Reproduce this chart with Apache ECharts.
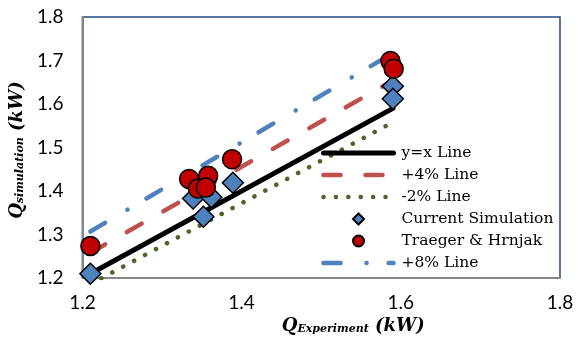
<!DOCTYPE html>
<html><head><meta charset="utf-8">
<script src="https://cdn.jsdelivr.net/npm/echarts@6/dist/echarts.min.js"></script>
<style>html,body{margin:0;padding:0;background:#fff}#c{width:580px;height:340px}</style>
</head><body><div id="c"></div>
<script>
// tick labels
const xTicks = [1.2, 1.4, 1.6, 1.8];
const yTicks = [1.2, 1.3, 1.4, 1.5, 1.6, 1.7, 1.8];
// reference lines (endpoints)
const refX   = [1.21, 1.59];
const yxLine = [1.21, 1.59];
const plus4  = [1.258, 1.654];
const minus2 = [1.186, 1.558];
const plus8  = [1.307, 1.717];
// Current Simulation
const simX = [1.21, 1.339, 1.362, 1.352, 1.389, 1.59, 1.59];
const simY = [1.21, 1.383, 1.386, 1.341, 1.419, 1.641, 1.612];
// Traeger & Hrnjak
const thX = [1.21, 1.334, 1.358, 1.345, 1.355, 1.388, 1.587, 1.591];
const thY = [1.274, 1.428, 1.435, 1.406, 1.408, 1.473, 1.699, 1.681];

const names = ['y=x Line', '+4% Line', '-2% Line', 'Current Simulation', 'Traeger & Hrnjak', '+8% Line'];
const zip = (a, b) => a.map((v, i) => [v, b[i]]);

const chart = echarts.init(document.getElementById('c'));
const titleRich = {
  q:   {fontFamily: 'DejaVu Serif', fontWeight: 'bold', fontStyle: 'italic', fontSize: 18, lineHeight: 23, color: '#000', verticalAlign: 'bottom'},
  sub: {fontFamily: 'DejaVu Serif', fontWeight: 'bold', fontStyle: 'italic', fontSize: 11, lineHeight: 17, color: '#000', verticalAlign: 'bottom'}
};
const lineSeries = (name, ys, color, width, dash) => ({
  name, type: 'line', data: zip(refX, ys), symbol: 'none', silent: true,
  lineStyle: {color, width, type: dash, cap: 'round'}, itemStyle: {color}, z: 2
});
const diamondIcon = 'path://M0,0 M70,12 M35,0.5 L40.5,6 L35,11.5 L29.5,6 Z';
const circleIcon = 'path://M0,0 M70,12 M40.5,6 A5.5,5.5 0 1 1 29.5,6 A5.5,5.5 0 1 1 40.5,6 Z';
chart.setOption({
  animation: false,
  grid: {left: 81, right: 20, top: 17, bottom: 55, show: true, borderColor: '#1F497D', borderWidth: 1.5, backgroundColor: 'transparent'},
  xAxis: {
    type: 'value', min: xTicks[0], max: xTicks[xTicks.length - 1], interval: 0.2,
    axisLine: {show: true, lineStyle: {color: '#868686', width: 2}},
    axisTick: {show: false}, splitLine: {show: false},
    axisLabel: {fontFamily: 'Lato', fontSize: 19, color: '#000', margin: 15, formatter: v => v.toFixed(1)},
    name: '{q|Q}{sub|Experiment}{q| (kW)}', nameLocation: 'middle', nameGap: 24,
    nameTextStyle: {rich: titleRich, padding: [0, 0, 0, 64]}
  },
  yAxis: {
    type: 'value', min: yTicks[0], max: yTicks[yTicks.length - 1], interval: 0.1,
    axisLine: {show: true, lineStyle: {color: '#868686', width: 2}},
    axisTick: {show: false}, splitLine: {show: false},
    axisLabel: {fontFamily: 'Lato', fontSize: 19, color: '#000', margin: 19, formatter: v => v.toFixed(1)},
    name: '{q|Q}{sub|simulation}{q| (kW)}', nameLocation: 'middle', nameGap: 37,
    nameTextStyle: {rich: titleRich, padding: [0, 5, 0, 0]}
  },
  legend: {
    orient: 'vertical', left: 321, top: 145, padding: 0, itemWidth: 70, itemHeight: 12, itemGap: 6,
    data: [
      {name: names[0], itemStyle: {opacity: 0}, lineStyle: {width: 5}},
      {name: names[1], itemStyle: {opacity: 0}, lineStyle: {width: 4.5}},
      {name: names[2], itemStyle: {opacity: 0}, lineStyle: {width: 4.5}},
      {name: names[3], icon: diamondIcon},
      {name: names[4], icon: circleIcon},
      {name: names[5], itemStyle: {opacity: 0}, lineStyle: {width: 4.5}}
    ],
    textStyle: {fontFamily: 'DejaVu Serif', fontSize: 15.5, color: '#000', lineHeight: 12, padding: [0, 0, 0, 3]},
    selectedMode: false
  },
  series: [
    lineSeries(names[5], plus8, '#4F81BD', 4.5, [17, 26, 0.1, 22]),
    lineSeries(names[1], plus4, '#C0504D', 4.5, [17, 25]),
    lineSeries(names[2], minus2, '#4F6228', 4.5, [0.1, 12.3]),
    lineSeries(names[0], yxLine, '#000000', 5, 'solid'),
    {name: names[3], type: 'scatter', data: zip(simX, simY), symbol: 'diamond', symbolSize: 21,
     itemStyle: {color: '#4F81BD', borderColor: '#000', borderWidth: 1.5, opacity: 1}, z: 3},
    {name: names[4], type: 'scatter', data: zip(thX, thY), symbol: 'circle', symbolSize: 19,
     itemStyle: {color: '#C00000', borderColor: '#000', borderWidth: 1.5, opacity: 1}, z: 4}
  ]
});
</script></body></html>
